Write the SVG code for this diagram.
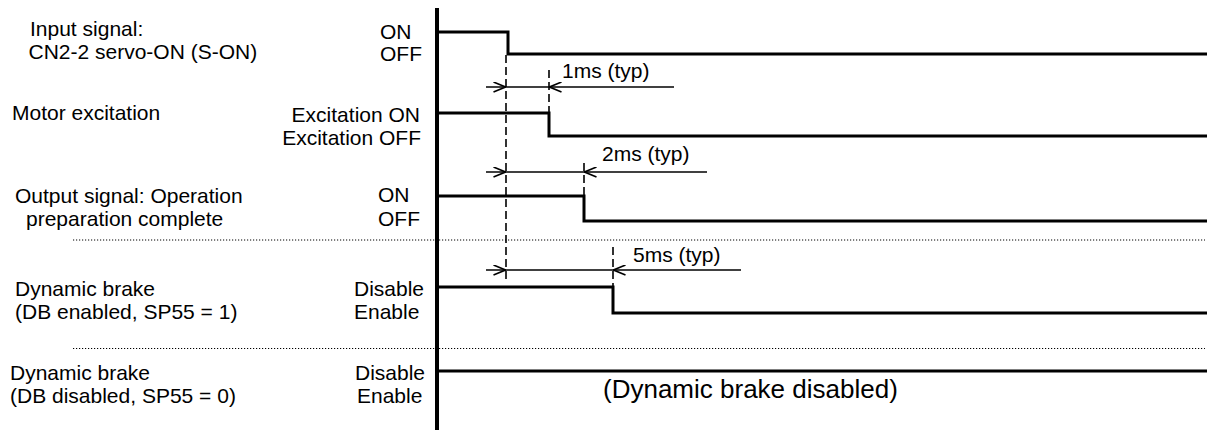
<svg xmlns="http://www.w3.org/2000/svg" width="1207" height="430" viewBox="0 0 1207 430">
<style>
text{font-family:"Liberation Sans",Arial,sans-serif;font-size:21px;fill:#000}
.big{font-size:26px}
.end{text-anchor:end}
.sig{fill:none;stroke:#000;stroke-width:3;stroke-linejoin:miter}
.axis{stroke:#000;stroke-width:4}
.dash{stroke:#000;stroke-width:1.6;stroke-dasharray:8 4;fill:none}
.dot{stroke:#000;stroke-width:1;stroke-dasharray:1.2 1.8;fill:none}
.dim{stroke:#000;stroke-width:1.5;fill:none}
</style>
<defs>
<marker id="arr" viewBox="0 0 13 11" refX="13" refY="5.5" markerWidth="13" markerHeight="11" markerUnits="userSpaceOnUse" orient="auto">
<path d="M0.5,0.5 L12.5,5.5 L0.5,10.5" fill="none" stroke="#000" stroke-width="1.6"/>
</marker>
</defs>
<rect width="1207" height="430" fill="#fff"/>
<line id="axis" class="axis" x1="437" y1="8" x2="437" y2="430"/>
<g id="sep">
<path class="dot" d="M73,240 H1205"/>
<path class="dot" d="M73,348.5 H1205"/>
</g>
<g id="row-son">
<text x="30" y="36">Input signal:</text>
<text x="28.5" y="58.5">CN2-2 servo-ON (S-ON)</text>
<text x="380" y="39">ON</text>
<text x="380" y="61">OFF</text>
<path class="sig" d="M437,32 H508 V54 H1207"/>
</g>
<g id="row-motor">
<text x="12" y="120">Motor excitation</text>
<text class="end" x="420" y="122">Excitation ON</text>
<text class="end" x="421" y="145">Excitation OFF</text>
<path class="sig" d="M437,113 H549 V136 H1207"/>
</g>
<g id="row-ready">
<text x="15" y="203">Output signal: Operation</text>
<text x="26" y="226">preparation complete</text>
<text x="378" y="202">ON</text>
<text x="378" y="226">OFF</text>
<path class="sig" d="M437,196 H584 V221 H1207"/>
</g>
<g id="row-db1">
<text x="15" y="296">Dynamic brake</text>
<text x="15" y="319">(DB enabled, SP55 = 1)</text>
<text x="354" y="296">Disable</text>
<text x="354" y="319">Enable</text>
<path class="sig" d="M437,287 H613 V313 H1207"/>
</g>
<g id="row-db0">
<text x="10" y="380">Dynamic brake</text>
<text x="10" y="403">(DB disabled, SP55 = 0)</text>
<text x="355" y="380">Disable</text>
<text x="357" y="403">Enable</text>
<path class="sig" d="M437,371 H1207"/>
<text class="big" x="603" y="398">(Dynamic brake disabled)</text>
</g>
<g id="connectors">
<path class="dash" d="M506,55 V283"/>
<path class="dash" d="M549,70 V112"/>
<path class="dash" d="M584,163 V195"/>
<path class="dash" d="M613,247 V286"/>
<path class="dim" d="M486,87 H506" marker-end="url(#arr)"/>
<path class="dim" d="M506,87 H549"/>
<path class="dim" d="M674,87 H549" marker-end="url(#arr)"/>
<path class="dim" d="M486,172 H506" marker-end="url(#arr)"/>
<path class="dim" d="M506,172 H584"/>
<path class="dim" d="M707,172 H584" marker-end="url(#arr)"/>
<path class="dim" d="M486,270 H506" marker-end="url(#arr)"/>
<path class="dim" d="M506,270 H613"/>
<path class="dim" d="M741,270 H613" marker-end="url(#arr)"/>
<text x="562" y="78">1ms (typ)</text>
<text x="602" y="161">2ms (typ)</text>
<text x="633" y="262">5ms (typ)</text>
</g>
</svg>
